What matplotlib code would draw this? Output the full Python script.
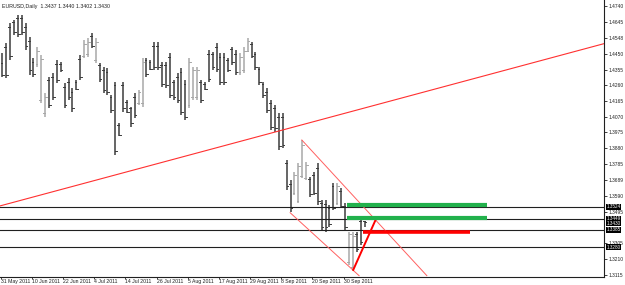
import numpy as np
import matplotlib
matplotlib.use('Agg')
import matplotlib.pyplot as plt

# EURUSD daily bars, 31 May 2011 onward
highs = [1.4454, 1.4514, 1.4635, 1.4655, 1.4685, 1.4685, 1.4635, 1.4554, 1.4423, 1.4494,
         1.4443, 1.4212, 1.4312, 1.4333, 1.4413, 1.4403, 1.4272, 1.4302, 1.4242, 1.4292,
         1.4443, 1.4534, 1.4544, 1.4574, 1.4544, 1.4393, 1.4373, 1.4363, 1.4201, 1.4282,
         1.4032, 1.4282, 1.4171, 1.4131, 1.4211, 1.4232, 1.4423, 1.4423, 1.4413, 1.4524,
         1.4524, 1.4403, 1.4403, 1.4454, 1.4292, 1.4333, 1.4363, 1.4292, 1.4423, 1.4373,
         1.4373, 1.4292, 1.4282, 1.4474, 1.4463, 1.4514, 1.4454, 1.4454, 1.4423, 1.4494,
         1.4474, 1.4454, 1.4494, 1.4544, 1.4524, 1.4463, 1.4373, 1.4282, 1.4242, 1.4171,
         1.4141, 1.4090, 1.4092, 1.3808, 1.3687, 1.3737, 1.3788, 1.3929, 1.3798, 1.3707,
         1.3737, 1.3788, 1.3566, 1.3566, 1.3536, 1.3667, 1.3667, 1.3637, 1.3546, 1.3374,
         1.3374, 1.3374, 1.3455, 1.3440]
lows = [1.4312, 1.4302, 1.4413, 1.4564, 1.4554, 1.4564, 1.4474, 1.4322, 1.4312, 1.4373,
        1.4151, 1.4070, 1.4121, 1.4171, 1.4272, 1.4342, 1.4121, 1.4171, 1.4100, 1.4232,
        1.4292, 1.4423, 1.4433, 1.4484, 1.4393, 1.4282, 1.4211, 1.4201, 1.4090, 1.3838,
        1.3953, 1.4100, 1.4090, 1.4010, 1.4060, 1.4141, 1.4131, 1.4312, 1.4353, 1.4353,
        1.4353, 1.4252, 1.4242, 1.4181, 1.4171, 1.4151, 1.4080, 1.4050, 1.4121, 1.4171,
        1.4171, 1.4151, 1.4232, 1.4282, 1.4353, 1.4342, 1.4262, 1.4262, 1.4342, 1.4383,
        1.4322, 1.4322, 1.4333, 1.4463, 1.4423, 1.4353, 1.4262, 1.4181, 1.4090, 1.3990,
        1.3979, 1.3869, 1.3881, 1.3627, 1.3495, 1.3596, 1.3546, 1.3697, 1.3687, 1.3586,
        1.3596, 1.3536, 1.3385, 1.3374, 1.3404, 1.3506, 1.3536, 1.3516, 1.3385, 1.3173,
        1.3143, 1.3253, 1.3294, 1.3402]
opens = [1.4393, 1.4490, 1.4610, 1.4640, 1.4670, 1.4670, 1.4610, 1.4530, 1.4400, 1.4390,
         1.4170, 1.4090, 1.4290, 1.4310, 1.4390, 1.4390, 1.4250, 1.4280, 1.4220, 1.4280,
         1.4420, 1.4440, 1.4450, 1.4560, 1.4410, 1.4380, 1.4350, 1.4340, 1.4190, 1.4260,
         1.4020, 1.4260, 1.4160, 1.4120, 1.4190, 1.4150, 1.4150, 1.4410, 1.4400, 1.4500,
         1.4500, 1.4380, 1.4380, 1.4430, 1.4280, 1.4310, 1.4340, 1.4270, 1.4140, 1.4190,
         1.4190, 1.4280, 1.4270, 1.4450, 1.4450, 1.4490, 1.4430, 1.4430, 1.4410, 1.4480,
         1.4450, 1.4340, 1.4350, 1.4470, 1.4510, 1.4450, 1.4360, 1.4270, 1.4220, 1.4150,
         1.4120, 1.4070, 1.4070, 1.3790, 1.3660, 1.3610, 1.3560, 1.3710, 1.3700, 1.3690,
         1.3720, 1.3760, 1.3550, 1.3540, 1.3520, 1.3650, 1.3550, 1.3620, 1.3530, 1.3190,
         1.3160, 1.3360, 1.3440, 1.3437]
closes = [1.4322, 1.4320, 1.4440, 1.4580, 1.4570, 1.4580, 1.4500, 1.4350, 1.4330, 1.4470,
          1.4420, 1.4190, 1.4140, 1.4190, 1.4290, 1.4350, 1.4140, 1.4190, 1.4120, 1.4240,
          1.4310, 1.4510, 1.4520, 1.4500, 1.4520, 1.4300, 1.4230, 1.4220, 1.4110, 1.3860,
          1.3960, 1.4120, 1.4100, 1.4030, 1.4080, 1.4220, 1.4400, 1.4330, 1.4360, 1.4370,
          1.4370, 1.4270, 1.4260, 1.4200, 1.4190, 1.4170, 1.4100, 1.4070, 1.4400, 1.4350,
          1.4350, 1.4170, 1.4240, 1.4300, 1.4370, 1.4360, 1.4280, 1.4280, 1.4350, 1.4400,
          1.4340, 1.4430, 1.4470, 1.4530, 1.4440, 1.4370, 1.4280, 1.4200, 1.4110, 1.4010,
          1.4000, 1.3890, 1.3900, 1.3650, 1.3520, 1.3720, 1.3770, 1.3900, 1.3780, 1.3600,
          1.3610, 1.3560, 1.3400, 1.3400, 1.3420, 1.3520, 1.3650, 1.3530, 1.3400, 1.3360,
          1.3350, 1.3270, 1.3310, 1.3430]

date_labels = ['31 May 2011', '10 Jun 2011', '22 Jun 2011', '4 Jul 2011', '14 Jul 2011',
               '26 Jul 2011', '5 Aug 2011', '17 Aug 2011', '29 Aug 2011', '8 Sep 2011',
               '20 Sep 2011', '30 Sep 2011']
price_ticks = [1.4740, 1.4645, 1.4548, 1.4450, 1.4355, 1.4260, 1.4165, 1.4070, 1.3975,
               1.3880, 1.3785, 1.3689, 1.3590, 1.3495, 1.3305, 1.3210, 1.3115]

# horizontal support / resistance levels and the bid
levels = [1.3524, 1.3449, 1.3385, 1.3280]
bid = 1.3430
green_levels = [1.3534, 1.3459]
red_level = 1.3372

fig = plt.figure(figsize=(6.25, 2.85), dpi=100)
ax = fig.add_axes([0, 8 / 285, 604 / 625, 277 / 285])

n = len(highs)
x = np.arange(n)
for i in range(n):
    col = '#a8a8a8' if closes[i] > opens[i] else '#3c3c3c'
    ax.plot([x[i], x[i]], [lows[i], highs[i]], color=col, lw=1.1, solid_capstyle='butt')
    ax.plot([x[i] - 0.45, x[i]], [opens[i], opens[i]], color=col, lw=0.7)
    ax.plot([x[i], x[i] + 0.45], [closes[i], closes[i]], color=col, lw=0.7)

for lv in levels:
    ax.axhline(lv, color='#202020', lw=0.8)

# long trend line
ax.plot([-0.6, 154.5], [1.3530, 1.4512], color='#ff3030', lw=0.8)
# falling channel
ax.plot([76.9, 109.0], [1.3929, 1.3108], color='#ff6060', lw=0.7)
ax.plot([73.9, 91.6], [1.3489, 1.3108], color='#ff6060', lw=0.7)
# projection
ax.plot([90.1, 95.9], [1.3143, 1.3449], color='#ff0000', lw=1.4)
for g in green_levels:
    ax.plot([88.5, 124.4], [g, g], color='#22b14c', lw=3.0, solid_capstyle='butt')
ax.plot([92.6, 120.1], [red_level, red_level], color='#ff0000', lw=2.6, solid_capstyle='butt')

ax.set_xlim(-0.59, 154.48)
ax.set_ylim(1.3100, 1.4776)

for s in ['top', 'left']:
    ax.spines[s].set_visible(False)
for s in ['right', 'bottom']:
    ax.spines[s].set_linewidth(0.8)
    ax.spines[s].set_color('#202020')

ax.yaxis.tick_right()
ax.set_yticks(price_ticks)
ax.set_yticklabels(['%.4f' % p for p in price_ticks])
ax.tick_params(axis='y', length=2, width=0.6, labelsize=3.5, pad=1.5, colors='#202020')
ax.set_xticks(np.arange(len(date_labels)) * 8 - 0.4)
ax.set_xticklabels(date_labels, ha='left')
ax.tick_params(axis='x', length=1.5, width=0.6, labelsize=3.7, pad=0.2, colors='#202020')
for lab in ax.get_xticklabels() + ax.get_yticklabels():
    lab.set_family('Liberation Sans')

# price boxes on the right scale (the two close ones nudged apart a little)
box_pos = {1.3524: 1.3524, 1.3449: 1.3453, 1.3385: 1.3385, 1.3280: 1.3280, 1.3430: 1.3424}
for p in levels + [bid]:
    ax.text(1.004, box_pos[p], '%.4f' % p, transform=ax.get_yaxis_transform(), fontsize=3.3,
            family='Liberation Sans', color='white', va='center', ha='left',
            bbox=dict(boxstyle='square,pad=0.08', fc='black', ec='none'))

ax.text(0.004, 0.985, 'EURUSD,Daily  1.3437 1.3440 1.3402 1.3430', transform=ax.transAxes,
        fontsize=3.8, family='Liberation Sans', va='top', ha='left', color='#202020')

fig.savefig('out.png', dpi=100)
